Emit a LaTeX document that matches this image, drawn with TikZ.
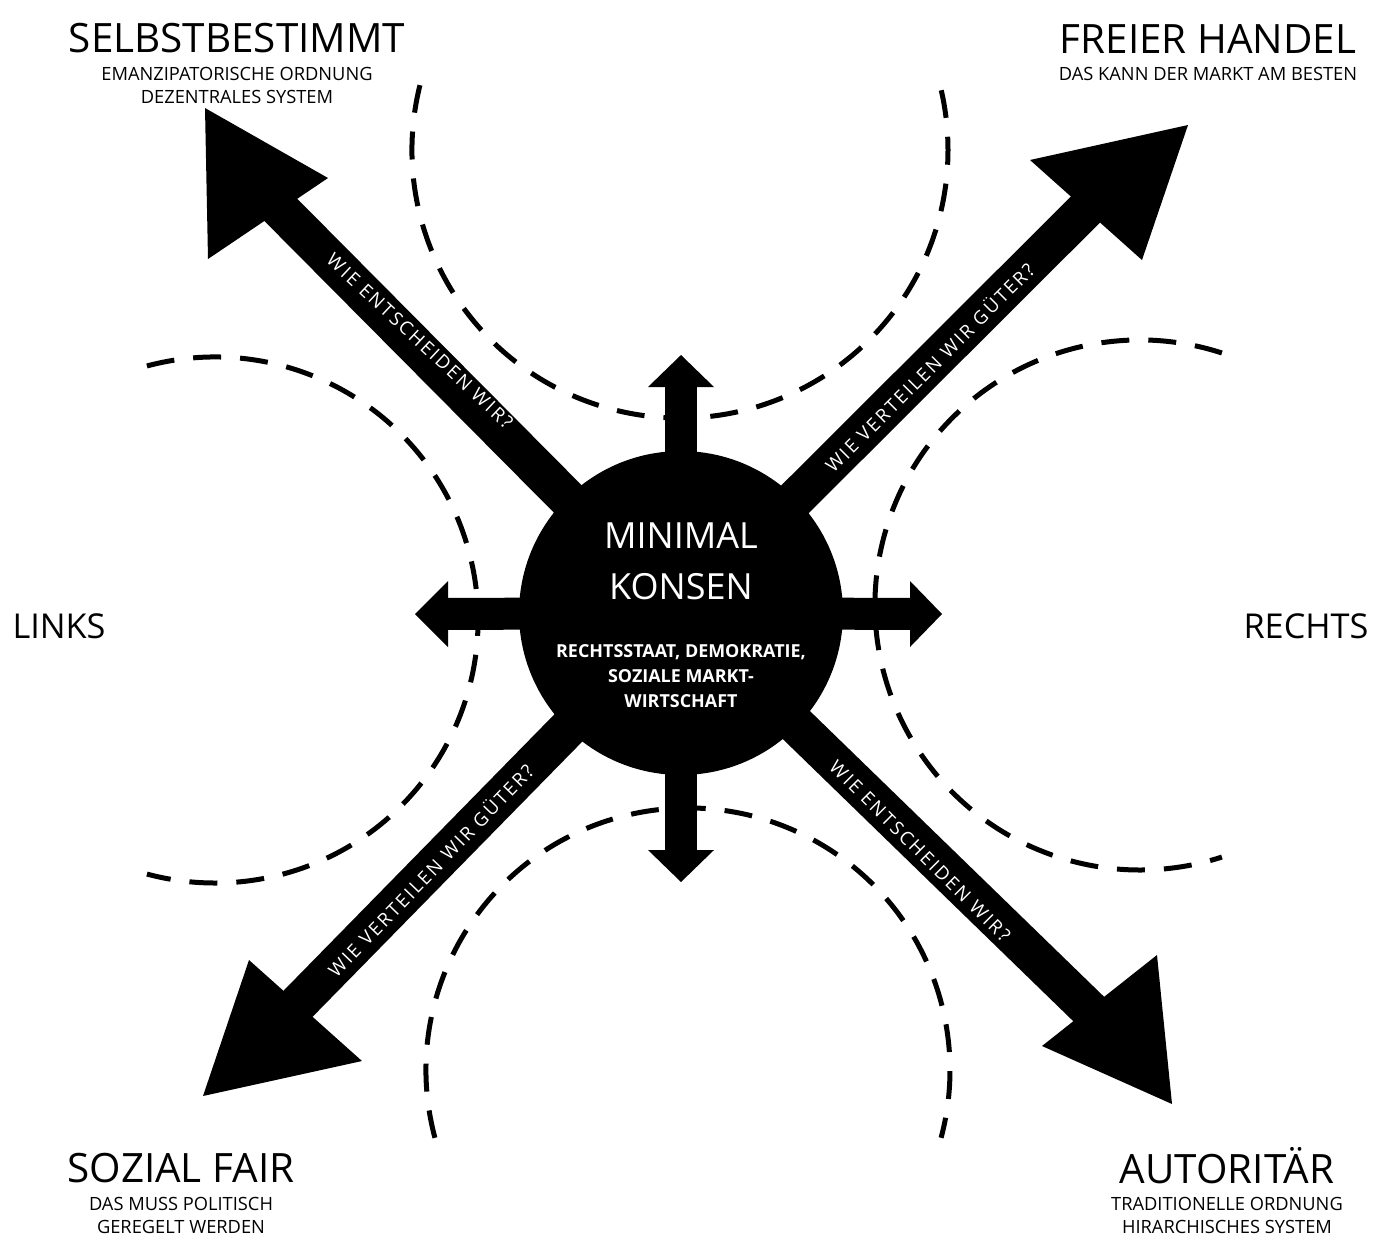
\documentclass[tikz,border=0pt]{standalone}
\usepackage{fontspec}
\setmainfont{Open Sans}
\newfontfamily\spaced[LetterSpace=12]{Open Sans}
\tikzset{
  headline/.style={anchor=base, inner sep=0pt, font=\fontsize{23}{28}\selectfont},
  subline/.style={anchor=base, inner sep=0pt, font=\fontsize{10.4}{13}\selectfont},
  sideline/.style={anchor=base, inner sep=0pt, font=\fontsize{19.5}{24}\selectfont},
  coreline/.style={anchor=base, inner sep=0pt, text=white, font=\fontsize{20.5}{24}\selectfont},
  corenote/.style={anchor=base, inner sep=0pt, text=white, font=\bfseries\fontsize{10.2}{12}\selectfont},
  roadlabel/.style={inner sep=0pt, text=white, font=\spaced\fontsize{10.6}{12}\selectfont},
  gate/.style={line width=0.1cm, dash pattern=on 0.56cm off 0.38cm},
  shaft/.style={line width=0.78cm},
  stub/.style={line width=0.64cm},
}
\begin{document}
\begin{tikzpicture}[x=0.02cm, y=-0.02cm]
  \useasboundingbox (0,0) rectangle (1383,1249);

  % dashed borders
  \draw[gate] (680,150) ++(194:268) arc[start angle=194, end angle=-14, radius=268];
  \draw[gate] (688,1070) ++(165:262) arc[start angle=165, end angle=375, radius=262];
  \draw[gate] (215,620) ++(-105:263) arc[start angle=-105, end angle=105, radius=263];
  \draw[gate] (1140,605) ++(288:265) arc[start angle=288, end angle=72, radius=265];

  % centre
  \node (core) [circle, fill=black, minimum size=6.48cm, inner sep=0pt] at (681,613) {};

  % big arrows
  \coordinate (nwend) at (270,199);
  \coordinate (neend) at (1095,200);
  \coordinate (seend) at (1099,1019);
  \coordinate (swend) at (288,1014);
  \draw[shaft] (core.center) -- (nwend);
  \draw[shaft] (core.center) -- (neend);
  \draw[shaft] (core.center) -- (seend);
  \draw[shaft] (core.center) -- (swend);
  \coordinate (nwtip) at (205,108);
  \coordinate (netip) at (1188,125);
  \coordinate (setip) at (1172,1104);
  \coordinate (swtip) at (203,1096);
  \fill (nwtip) -- (328,178) -- (208,259) -- cycle;
  \fill (netip) -- (1030,160) -- (1142,260) -- cycle;
  \fill (setip) -- (1157,955) -- (1042,1046) -- cycle;
  \fill (swtip) -- (249,960) -- (362,1061) -- cycle;

  % small arrows
  \coordinate (uptip) at (681,355);
  \coordinate (downtip) at (681,882);
  \coordinate (lefttip) at (415,614);
  \coordinate (righttip) at (942,614);
  \draw[stub] (core.center) -- (681,380);
  \draw[stub] (core.center) -- (681,857);
  \draw[stub] (core.center) -- (440,614);
  \draw[stub] (core.center) -- (917,614);
  \fill (uptip) -- (714,387) -- (648,387) -- cycle;
  \fill (downtip) -- (714,850) -- (648,850) -- cycle;
  \fill (lefttip) -- (448,581) -- (448,647) -- cycle;
  \fill (righttip) -- (910,581) -- (910,647) -- cycle;

  % arrow texts
  \node (nwroad) [roadlabel, rotate=-43] at (420,341) {WIE ENTSCHEIDEN WIR?};
  \node (neroad) [roadlabel, rotate=45] at (929,367) {WIE VERTEILEN WIR GÜTER?};
  \node (swroad) [roadlabel, rotate=46] at (430,870) {WIE VERTEILEN WIR GÜTER?};
  \node (seroad) [roadlabel, rotate=-45] at (920,851) {WIE ENTSCHEIDEN WIR?};

  % centre texts
  \node (minimal) [coreline] at (681,548) {MINIMAL};
  \node (konsen) [coreline] at (681,599) {KONSEN};
  \node (note1) [corenote] at (681,657) {RECHTSSTAAT, DEMOKRATIE,};
  \node (note2) [corenote] at (681,682) {SOZIALE MARKT-};
  \node (note3) [corenote] at (681,707) {WIRTSCHAFT};

  % corner texts
  \node (selbst) [headline] at (237,52) {SELBSTBESTIMMT};
  \node (selbst1) [subline] at (237,80) {EMANZIPATORISCHE ORDNUNG};
  \node (selbst2) [subline] at (237,103) {DEZENTRALES SYSTEM};
  \node (frei) [headline] at (1208,53) {FREIER HANDEL};
  \node (frei1) [subline] at (1208,80) {DAS KANN DER MARKT AM BESTEN};
  \node (sozial) [headline] at (181,1182) {SOZIAL FAIR};
  \node (sozial1) [subline] at (181,1210) {DAS MUSS POLITISCH};
  \node (sozial2) [subline] at (181,1233) {GEREGELT WERDEN};
  \node (auto) [headline] at (1227,1183) {AUTORITÄR};
  \node (auto1) [subline] at (1227,1210) {TRADITIONELLE ORDNUNG};
  \node (auto2) [subline] at (1227,1233) {HIRARCHISCHES SYSTEM};

  % sides
  \node (links) [sideline] at (59,638) {LINKS};
  \node (rechts) [sideline] at (1306,638) {RECHTS};
\end{tikzpicture}
\end{document}
